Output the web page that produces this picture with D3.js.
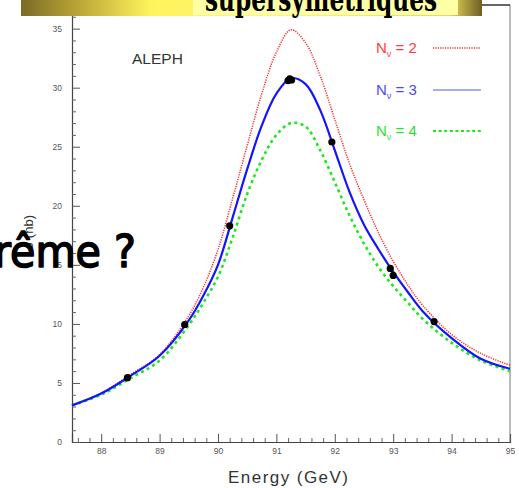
<!DOCTYPE html>
<meta charset="utf-8">
<script src="https://d3js.org/d3.v7.min.js"></script>
<style>
  body { margin: 0; background: #fff; }
  svg { display: block; }
</style>
<body>
<script>

// DATA

var energies = [87.5, 88, 88.5, 89, 89.5, 89.75, 90, 90.25, 90.5, 90.75, 91, 91.25,
                91.5, 91.75, 92, 92.25, 92.5, 92.75, 93, 93.25, 93.5, 94, 94.5, 95];

var nu2 = [3.1, 4.15, 5.7, 7.4, 10.7, 13.1, 16.3, 20.6, 25.1, 29.5, 33.0, 34.9,
           33.8, 31.0, 27.3, 23.6, 20.5, 17.7, 15.3, 13.3, 11.6, 9.1, 7.5, 6.5];
var nu3 = [3.1, 4.1, 5.6, 7.3, 10.3, 12.4, 15.0, 19.0, 23.1, 26.8, 29.5, 30.8,
           30.3, 28.1, 24.7, 21.2, 18.4, 16.3, 14.4, 12.7, 11.1, 8.8, 7.05, 6.2];
var nu4 = [3.1, 4.0, 5.4, 6.9, 9.9, 11.8, 14.0, 17.3, 21.0, 23.9, 26.0, 27.0,
           26.7, 24.7, 22.0, 19.2, 16.8, 14.8, 13.2, 11.8, 10.45, 8.4, 6.9, 6.0];

var pointE = [88.45, 89.43, 90.2, 91.2, 91.23, 91.26, 91.95, 92.95, 93.0, 93.7];
var pointS = [5.45, 9.95, 18.3, 30.6, 30.75, 30.65, 25.4, 14.7, 14.1, 10.2];

var xMajor = [88, 89, 90, 91, 92, 93, 94, 95];
var yMajor = [0, 5, 10, 15, 20, 25, 30, 35];
var legendNums = ["2", "3", "4"];

var width = 519;
var height = 488;

// SVG SETUP

var svg = d3.select("body").append("svg")
    .attr("width", width)
    .attr("height", height);

var x = d3.scaleLinear().domain([87.5, 95]).range([72, 510]);
var y = d3.scaleLinear().domain([0, 37]).range([442, 5]);

// FRAME

svg.append("line")
    .attr("x1", 510).attr("x2", 510).attr("y1", 5).attr("y2", 442)
    .attr("stroke", "#777").attr("stroke-width", 1);
svg.append("line")
    .attr("x1", 72).attr("x2", 510).attr("y1", 5).attr("y2", 5)
    .attr("stroke", "#333").attr("stroke-width", 1.5);

// AXES

var minorX = d3.range(87.6, 95.01, 0.2).filter(function (v) { return Math.abs(v - Math.round(v)) > 0.05; });
var minorY = d3.range(1, 37, 1).filter(function (v) { return v % 5 !== 0; });

function styleAxis(g) {
  g.select(".domain").attr("stroke", "#444").attr("stroke-width", 1.2);
  g.selectAll(".tick line").attr("stroke", "#555");
  g.selectAll(".tick text")
    .attr("fill", "#555")
    .style("font-family", "'Liberation Sans', Arial, sans-serif")
    .style("font-size", "8.5px");
}

svg.append("g")
    .attr("transform", "translate(0,442)")
    .call(d3.axisBottom(x).tickValues(xMajor).tickSize(-8).tickPadding(6).tickFormat(d3.format("d")))
    .call(styleAxis);
svg.append("g")
    .attr("transform", "translate(0,442)")
    .call(d3.axisBottom(x).tickValues(minorX).tickSize(-4).tickFormat(""))
    .call(function (g) { g.select(".domain").remove(); g.selectAll("line").attr("stroke", "#666"); });

svg.append("g")
    .attr("transform", "translate(72,0)")
    .call(d3.axisLeft(y).tickValues(yMajor).tickSize(-8).tickPadding(10))
    .call(styleAxis);
svg.append("g")
    .attr("transform", "translate(72,0)")
    .call(d3.axisLeft(y).tickValues(minorY).tickSize(-4).tickFormat(""))
    .call(function (g) { g.select(".domain").remove(); g.selectAll("line").attr("stroke", "#666"); });

// CURVES

var line = d3.line()
    .x(function (d) { return x(d[0]); })
    .y(function (d) { return y(d[1]); })
    .curve(d3.curveCatmullRom.alpha(0.5));

var series = [
  { vals: nu4, color: "#1ee81e", width: 2.6, dash: "3,3.4" },
  { vals: nu2, color: "#ff2a2a", width: 1.5, dash: "1.2,1.2" },
  { vals: nu3, color: "#1414ff", width: 2.2, dash: null }
];

series.forEach(function (s) {
  svg.append("path")
    .datum(energies.map(function (e, i) { return [e, s.vals[i]]; }))
    .attr("d", line)
    .attr("fill", "none")
    .attr("stroke", s.color)
    .attr("stroke-width", s.width)
    .attr("stroke-dasharray", s.dash);
});

// DATA POINTS

svg.selectAll("circle.pt")
  .data(pointE.map(function (e, i) { return [e, pointS[i]]; }))
  .enter().append("circle")
    .attr("class", "pt")
    .attr("cx", function (d) { return x(d[0]); })
    .attr("cy", function (d) { return y(d[1]); })
    .attr("r", 3.6)
    .attr("fill", "#000");

// LEGEND

var legColors = [
  { text: "#ff3b3b", line: "#ff2a2a", w: 1.5, dash: "1.2,1.2" },
  { text: "#4a4af5", line: "#a6aef6", w: 2.2, dash: null },
  { text: "#2ee02e", line: "#1ee81e", w: 2, dash: "3,2.6" }
];
var legY = [48, 90, 131];

legendNums.forEach(function (n, i) {
  var t = svg.append("text")
    .attr("x", 376).attr("y", legY[i] + 5)
    .attr("fill", legColors[i].text)
    .style("font-family", "'Liberation Sans', Arial, sans-serif")
    .style("font-size", "15px");
  t.append("tspan").text("N");
  t.append("tspan").attr("dy", 4).style("font-size", "9px").text("ν");
  t.append("tspan").attr("dy", -4).text(" = " + n);

  svg.append("line")
    .attr("x1", 433).attr("x2", 481).attr("y1", legY[i]).attr("y2", legY[i])
    .attr("stroke", legColors[i].line)
    .attr("stroke-width", legColors[i].w)
    .attr("stroke-dasharray", legColors[i].dash);
});

svg.append("text")
    .attr("x", 132).attr("y", 64)
    .attr("fill", "#333")
    .style("font-family", "'Liberation Sans', Arial, sans-serif")
    .style("font-size", "15.5px")
    .text("ALEPH");

// AXIS LABELS

svg.append("text")
    .attr("x", 228).attr("y", 483)
    .attr("textLength", 120)
    .attr("fill", "#333")
    .style("font-family", "'Liberation Sans', Arial, sans-serif")
    .style("font-size", "17px")
    .text("Energy  (GeV)");

svg.append("text")
    .attr("transform", "translate(33,215)rotate(-90)")
    .attr("text-anchor", "end")
    .attr("fill", "#333")
    .style("font-family", "'Liberation Sans', Arial, sans-serif")
    .style("font-size", "13px")
    .text("σ (nb)");

// SLIDE OVERLAYS

var defs = svg.append("defs");
var grad = defs.append("linearGradient").attr("id", "gold");
[["0%", "#7a6a26"], ["12%", "#b8a436"], ["28%", "#fff35c"], ["55%", "#fff47a"],
 ["93%", "#e8d85a"], ["100%", "#6c5e24"]].forEach(function (s) {
  grad.append("stop").attr("offset", s[0]).attr("stop-color", s[1]);
});

svg.append("rect")
    .attr("x", 21).attr("y", 0).attr("width", 461).attr("height", 16)
    .attr("fill", "url(#gold)");
svg.append("rect")
    .attr("x", 193).attr("y", 0).attr("width", 265).attr("height", 15)
    .attr("fill", "#ffffa6");
svg.append("text")
    .attr("x", 205).attr("y", 11)
    .attr("textLength", 232)
    .attr("lengthAdjust", "spacingAndGlyphs")
    .attr("fill", "#000")
    .style("font-family", "'DejaVu Serif', 'Liberation Serif', serif")
    .style("font-weight", "bold")
    .style("font-size", "34px")
    .text("supersymétriques");

svg.append("text")
    .attr("x", -6).attr("y", 267)
    .attr("textLength", 142)
    .attr("lengthAdjust", "spacingAndGlyphs")
    .attr("fill", "#000")
    .attr("stroke", "#000")
    .attr("stroke-width", 1.6)
    .attr("stroke-linejoin", "round")
    .style("font-family", "'DejaVu Sans', sans-serif")
    .style("font-size", "44px")
    .text("rême ?");

</script>
</body>
